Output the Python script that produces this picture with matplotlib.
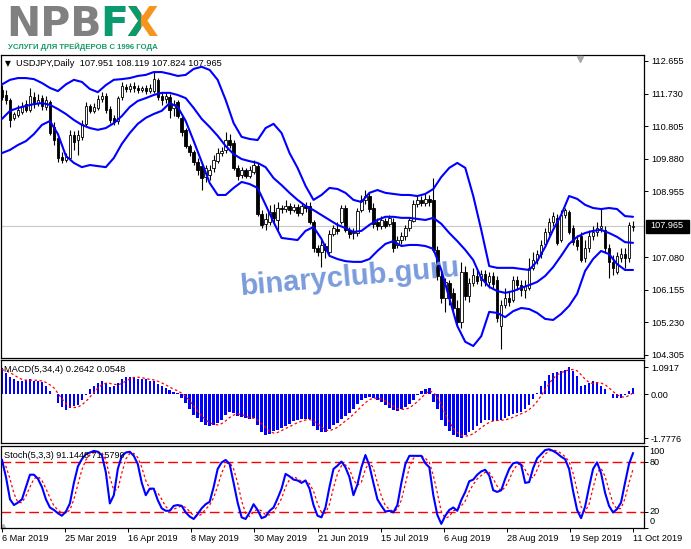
import matplotlib
matplotlib.use("Agg")
import matplotlib.pyplot as plt
import matplotlib.transforms as mtrans
from matplotlib.patches import Rectangle
import numpy as np

plt.rcParams['font.family'] = ['Liberation Sans', 'DejaVu Sans']

# ---------------- data ----------------
symbol_header = "USDJPY,Daily  107.951 108.119 107.824 107.965"
macd_header = "MACD(5,34,4) 0.2642 0.0548"
stoch_header = "Stoch(5,3,3) 91.1448 71.5790"
last_price = 107.965

date_labels = ['6 Mar 2019', '25 Mar 2019', '16 Apr 2019', '8 May 2019', '30 May 2019',
               '21 Jun 2019', '15 Jul 2019', '6 Aug 2019', '28 Aug 2019', '19 Sep 2019',
               '11 Oct 2019']
price_ticks = [104.305, 105.230, 106.155, 107.080, 108.955, 109.880, 110.805, 111.730, 112.655]
macd_ticks = [1.0917, 0.0, -1.7776]
macd_tick_labels = ['1.0917', '0.00', '-1.7776']
stoch_levels = [20, 80]

open_ = [111.83, 111.69, 111.55, 111.04, 111.12, 111.21, 111.43, 111.26, 111.63, 111.46,
         111.60, 111.35, 111.49, 110.78, 110.47, 109.93, 109.84, 109.90, 110.55, 110.41,
         110.50, 110.87, 111.38, 111.24, 111.32, 111.58, 111.66, 111.29, 111.04, 110.95,
         111.63, 111.92, 111.86, 111.94, 111.89, 111.83, 111.89, 111.80, 111.80, 112.12,
         111.66, 111.58, 111.63, 111.32, 111.49, 111.04, 110.70, 110.24, 110.07, 109.79,
         109.67, 109.36, 109.42, 109.62, 109.81, 110.04, 110.13, 110.41, 110.33, 109.62,
         109.42, 109.56, 109.39, 109.50, 109.67, 108.31, 108.03, 108.08, 108.37, 108.14,
         108.48, 108.45, 108.54, 108.42, 108.51, 108.34, 108.54, 108.54, 108.08, 107.34,
         107.23, 107.40, 107.23, 107.74, 107.88, 108.08, 108.48, 107.86, 107.77, 107.77,
         108.42, 108.71, 108.82, 108.48, 108.08, 107.97, 108.11, 108.03, 108.08, 107.43,
         107.57, 107.69, 107.91, 108.11, 108.59, 108.71, 108.62, 108.74, 108.71, 107.29,
         106.55, 105.92, 106.35, 106.07, 105.64, 105.24, 106.66, 105.98, 106.35, 106.55,
         106.44, 106.61, 106.38, 106.55, 106.44, 105.13, 105.72, 105.92, 105.87, 106.44,
         106.29, 106.15, 106.21, 106.78, 107.00, 107.17, 107.46, 107.80, 108.08, 108.20,
         107.57, 108.28, 108.37, 107.91, 107.57, 107.69, 107.06, 107.34, 107.69, 107.80,
         107.91, 107.86, 107.34, 106.95, 106.66, 107.06, 107.17, 107.06, 107.951]
high = [111.97, 111.83, 111.60, 111.21, 111.41, 111.49, 111.55, 111.89, 111.77, 111.72,
        111.69, 111.66, 111.55, 110.92, 110.55, 110.07, 110.04, 110.70, 110.67, 110.70,
        110.98, 111.49, 111.43, 111.46, 111.69, 111.77, 111.75, 111.38, 111.12, 111.66,
        112.06, 112.00, 112.03, 112.06, 111.97, 111.94, 111.97, 112.00, 112.34, 112.17,
        111.77, 111.77, 111.72, 111.55, 111.55, 111.09, 110.75, 110.30, 110.13, 109.90,
        109.79, 109.70, 109.70, 109.99, 110.19, 110.21, 110.64, 110.58, 110.41, 109.70,
        109.64, 109.62, 109.67, 109.84, 109.76, 108.42, 108.34, 108.57, 108.59, 108.65,
        108.57, 108.71, 108.62, 108.59, 108.59, 108.62, 108.65, 108.65, 108.14, 107.43,
        107.57, 107.49, 107.86, 108.00, 108.08, 108.57, 108.57, 107.94, 107.91, 108.48,
        108.85, 108.99, 108.94, 108.62, 108.20, 108.25, 108.20, 108.28, 108.20, 107.69,
        107.80, 108.00, 108.23, 108.71, 108.82, 108.82, 108.88, 108.85, 109.33, 107.40,
        106.72, 106.49, 106.44, 106.21, 105.87, 106.95, 106.83, 106.49, 106.78, 106.72,
        106.72, 106.72, 106.66, 106.66, 106.55, 105.87, 106.21, 106.10, 106.55, 106.55,
        106.44, 106.44, 107.06, 107.23, 107.29, 107.57, 107.91, 108.20, 108.37, 108.31,
        108.42, 108.48, 108.42, 108.00, 107.71, 107.80, 107.57, 107.86, 107.97, 108.08,
        108.48, 107.97, 107.46, 107.15, 107.23, 107.34, 107.34, 108.08, 108.119]
low = [111.55, 111.43, 110.78, 110.98, 111.07, 111.15, 111.21, 111.21, 111.32, 111.38,
       111.26, 111.26, 110.55, 110.27, 109.79, 109.76, 109.79, 109.84, 110.13, 109.99,
       110.41, 110.81, 111.18, 111.18, 111.26, 111.49, 111.18, 110.89, 110.84, 110.87,
       111.55, 111.77, 111.77, 111.77, 111.75, 111.77, 111.72, 111.75, 111.75, 111.55,
       111.41, 111.46, 111.04, 111.09, 111.04, 110.53, 110.19, 109.96, 109.70, 109.42,
       108.99, 109.22, 109.28, 109.50, 109.76, 109.96, 110.04, 110.19, 109.56, 109.28,
       109.33, 109.33, 109.33, 109.45, 108.25, 107.91, 107.86, 108.00, 108.00, 107.86,
       108.34, 108.37, 108.31, 108.37, 108.25, 108.28, 108.37, 108.03, 107.23, 107.12,
       106.80, 107.06, 107.12, 107.69, 107.74, 108.03, 107.80, 107.63, 107.60, 107.69,
       108.37, 108.59, 108.37, 107.91, 107.86, 107.88, 107.91, 107.97, 107.23, 107.34,
       107.46, 107.57, 107.83, 108.08, 108.51, 108.54, 108.54, 108.54, 107.23, 106.44,
       105.78, 105.53, 105.72, 105.53, 105.16, 105.07, 105.87, 105.81, 106.27, 106.32,
       106.27, 106.27, 106.21, 106.21, 105.24, 104.47, 105.64, 105.70, 105.81, 106.15,
       105.98, 105.92, 106.15, 106.72, 106.89, 107.06, 107.37, 107.71, 107.97, 107.43,
       107.51, 108.20, 107.74, 107.43, 107.29, 106.95, 106.95, 107.23, 107.57, 107.69,
       107.80, 107.23, 106.49, 106.58, 106.61, 106.95, 106.78, 106.95, 107.824]
close = [111.63, 111.55, 110.98, 111.15, 111.26, 111.38, 111.26, 111.66, 111.43, 111.55,
         111.38, 111.55, 110.61, 110.41, 109.90, 109.84, 109.93, 110.55, 110.36, 110.55,
         110.87, 111.38, 111.24, 111.35, 111.58, 111.66, 111.26, 110.98, 110.92, 111.60,
         111.94, 111.86, 111.94, 111.89, 111.83, 111.89, 111.80, 111.89, 112.14, 111.63,
         111.55, 111.66, 111.26, 111.43, 111.09, 110.64, 110.24, 110.07, 109.79, 109.56,
         109.33, 109.62, 109.56, 109.84, 110.04, 110.10, 110.41, 110.27, 109.62, 109.39,
         109.56, 109.39, 109.56, 109.70, 108.31, 108.00, 108.17, 108.37, 108.20, 108.48,
         108.45, 108.54, 108.42, 108.51, 108.34, 108.54, 108.48, 108.08, 107.34, 107.23,
         107.43, 107.29, 107.74, 107.91, 107.83, 108.48, 107.86, 107.74, 107.80, 108.40,
         108.71, 108.82, 108.45, 108.03, 107.97, 108.14, 107.97, 108.20, 107.34, 107.57,
         107.69, 107.91, 108.14, 108.59, 108.71, 108.62, 108.74, 108.65, 107.29, 106.55,
         105.92, 106.38, 105.92, 105.64, 105.24, 106.66, 105.98, 106.35, 106.58, 106.41,
         106.61, 106.38, 106.55, 106.32, 105.36, 105.72, 105.92, 105.81, 106.44, 106.29,
         106.15, 106.27, 106.78, 107.00, 107.17, 107.43, 107.80, 108.08, 108.25, 107.49,
         108.28, 108.42, 107.80, 107.51, 107.40, 107.00, 107.34, 107.69, 107.80, 107.91,
         107.97, 107.34, 106.95, 106.78, 107.12, 107.17, 107.06, 108.00, 107.965]

# Bollinger bands, read every second bar (bars 0, 2, 4, ... 158)
bb_upper = [111.99, 112.12, 112.17, 112.17, 112.14, 112.03, 111.89, 111.80, 111.99, 112.12,
            112.06, 111.86, 111.77, 111.97, 112.12, 112.14, 112.17, 112.23, 112.26, 112.34,
            112.34, 112.29, 112.23, 112.26, 112.43, 112.49, 112.40, 112.12, 111.55, 110.89,
            110.50, 110.44, 110.41, 110.75, 110.87, 110.61, 110.04, 109.62, 109.11, 108.71,
            108.85, 109.05, 109.02, 108.91, 108.71, 108.65, 108.91, 108.99, 108.91, 108.88,
            108.85, 108.85, 108.82, 108.88, 109.02, 109.36, 109.62, 109.76, 109.62, 108.82,
            107.86, 106.83, 106.78, 106.78, 106.78, 106.75, 106.72, 106.97, 107.37, 107.86,
            108.28, 108.82, 108.74, 108.57, 108.48, 108.45, 108.48, 108.45, 108.25, 108.23]
bb_mid = [111.01, 111.24, 111.32, 111.38, 111.43, 111.46, 111.41, 111.29, 111.15, 110.98,
          110.84, 110.75, 110.70, 110.75, 110.89, 111.09, 111.35, 111.52, 111.60, 111.69,
          111.75, 111.75, 111.69, 111.60, 111.32, 111.01, 110.78, 110.53, 110.24, 110.01,
          109.87, 109.81, 109.76, 109.64, 109.33, 109.13, 108.91, 108.71, 108.54, 108.42,
          108.28, 108.14, 108.00, 107.91, 107.80, 107.83, 108.00, 108.14, 108.23, 108.23,
          108.20, 108.20, 108.17, 108.14, 108.20, 108.03, 107.77, 107.54, 107.29, 107.00,
          106.49, 106.24, 106.12, 106.07, 106.12, 106.21, 106.29, 106.38, 106.55, 106.80,
          107.12, 107.46, 107.66, 107.77, 107.83, 107.86, 107.77, 107.66, 107.51, 107.49]
bb_lower = [110.04, 110.13, 110.27, 110.38, 110.58, 110.84, 110.95, 110.58, 109.96, 109.76,
            109.64, 109.70, 109.67, 109.64, 109.90, 110.30, 110.61, 110.87, 111.04, 111.15,
            111.24, 111.46, 111.35, 110.95, 110.38, 109.79, 109.19, 108.85, 108.85, 109.05,
            109.22, 109.16, 109.05, 108.57, 108.08, 107.63, 107.60, 107.57, 107.83, 107.94,
            107.60, 107.12, 107.03, 106.97, 106.95, 106.95, 107.03, 107.26, 107.46, 107.54,
            107.40, 107.43, 107.43, 107.40, 107.32, 106.72, 105.92, 105.13, 104.68, 104.56,
            104.84, 105.53, 105.50, 105.38, 105.55, 105.64, 105.61, 105.50, 105.33, 105.30,
            105.47, 105.70, 106.04, 106.69, 107.03, 107.26, 107.17, 106.89, 106.72, 106.72]

macd_main = [1.05, 0.85, 0.7, 0.6, 0.55, 0.55, 0.58, 0.6, 0.55, 0.52,
             0.5, 0.35, 0.15, 0.02, -0.35, -0.52, -0.62, -0.55, -0.48, -0.42,
             -0.25, -0.02, 0.2, 0.33, 0.47, 0.53, 0.45, 0.3, 0.34, 0.47,
             0.6, 0.7, 0.71, 0.7, 0.63, 0.62, 0.6, 0.55, 0.54, 0.42,
             0.33, 0.24, 0.16, 0.08, 0.07, -0.16, -0.35, -0.58, -0.83, -0.96,
             -1.12, -1.25, -1.28, -1.24, -1.17, -1.05, -0.85, -0.7, -0.76, -0.89,
             -0.92, -0.96, -1.02, -0.96, -1.24, -1.52, -1.64, -1.6, -1.5, -1.44,
             -1.35, -1.27, -1.19, -1.1, -1.03, -1.02, -1.0, -1.02, -1.3, -1.44,
             -1.52, -1.52, -1.4, -1.25, -1.17, -1.0, -0.9, -0.75, -0.58, -0.4,
             -0.22, -0.14, -0.12, -0.14, -0.22, -0.32, -0.45, -0.55, -0.64, -0.66,
             -0.6, -0.52, -0.4, -0.22, -0.05, 0.12, 0.2, 0.27, -0.3, -0.6,
             -1.05, -1.3, -1.5, -1.65, -1.72, -1.7776, -1.65, -1.52, -1.43, -1.3,
             -1.15, -1.06, -1.03, -1.08, -1.07, -1.03, -0.96, -0.89, -0.82, -0.75,
             -0.7, -0.6, -0.42, -0.2, 0.05, 0.35, 0.55, 0.78, 0.86, 0.92,
             0.95, 1.0, 1.0917, 0.96, 0.75, 0.34, 0.38, 0.45, 0.53, 0.48,
             0.35, 0.2, 0.02, -0.14, -0.16, -0.14, -0.03, 0.14, 0.2642]
macd_signal = [1.0, 0.95, 0.88, 0.78, 0.68, 0.60, 0.57, 0.57, 0.57, 0.56,
               0.54, 0.48, 0.38, 0.26, 0.04, -0.18, -0.37, -0.51, -0.54, -0.52,
               -0.43, -0.29, -0.12, 0.07, 0.25, 0.38, 0.45, 0.44, 0.40, 0.39,
               0.43, 0.53, 0.62, 0.68, 0.69, 0.67, 0.64, 0.60, 0.58, 0.53,
               0.46, 0.38, 0.29, 0.20, 0.14, 0.04, -0.09, -0.26, -0.48, -0.68,
               -0.87, -1.04, -1.15, -1.22, -1.24, -1.19, -1.08, -0.94, -0.84, -0.80,
               -0.82, -0.88, -0.95, -0.97, -1.05, -1.19, -1.34, -1.50, -1.57, -1.55,
               -1.47, -1.39, -1.31, -1.23, -1.15, -1.09, -1.04, -1.02, -1.09, -1.19,
               -1.32, -1.45, -1.47, -1.42, -1.34, -1.21, -1.08, -0.96, -0.81, -0.66,
               -0.49, -0.34, -0.22, -0.16, -0.16, -0.20, -0.28, -0.39, -0.49, -0.58,
               -0.61, -0.61, -0.55, -0.44, -0.30, -0.14, 0.01, 0.14, 0.07, -0.11,
               -0.42, -0.81, -1.11, -1.38, -1.54, -1.66, -1.70, -1.67, -1.60, -1.48,
               -1.35, -1.24, -1.14, -1.08, -1.06, -1.05, -1.04, -0.99, -0.93, -0.86,
               -0.79, -0.72, -0.62, -0.48, -0.29, -0.06, 0.19, 0.43, 0.64, 0.78,
               0.88, 0.93, 0.99, 1.00, 0.95, 0.79, 0.61, 0.48, 0.43, 0.46,
               0.45, 0.39, 0.26, 0.11, -0.02, -0.105, -0.12, -0.05, 0.0548]

stoch_main = [83, 62, 35, 28, 31, 35, 50, 65, 65, 60,
              50, 35, 25, 22, 18, 15, 20, 30, 55, 75,
              84, 90, 92, 94, 93, 89, 68, 30, 40, 72,
              88, 92, 93, 88, 78, 55, 40, 48, 48, 34,
              24, 21, 21, 27, 28, 27, 19, 14, 11, 17,
              24, 29, 32, 50, 72, 80, 83, 78, 55, 31,
              13, 11, 19, 29, 22, 12, 14, 21, 25, 36,
              48, 66, 63, 59, 58, 55, 58, 48, 28, 15,
              13, 25, 50, 72, 76, 81, 74, 62, 40, 53,
              74, 89, 76, 55, 35, 27, 20, 21, 19, 28,
              55, 78, 88, 88, 88, 88, 79, 74, 40, 16,
              5, 15, 22, 25, 21, 34, 44, 57, 59, 65,
              69, 71, 64, 46, 44, 46, 60, 72, 79, 80,
              77, 55, 56, 73, 85, 90, 95, 96, 94, 91,
              87, 84, 72, 45, 22, 12, 26, 50, 72, 80,
              67, 43, 27, 19, 23, 31, 55, 78, 91.1448]
stoch_signal = [80, 75, 60, 42, 31, 31, 39, 50, 60, 63,
                58, 48, 37, 27, 22, 18, 18, 22, 35, 53,
                71, 83, 89, 92, 93, 92, 83, 62, 46, 47,
                67, 84, 91, 91, 86, 74, 58, 48, 45, 43,
                35, 26, 22, 23, 25, 27, 25, 20, 15, 14,
                17, 23, 28, 37, 51, 67, 78, 80, 72, 55,
                33, 18, 14, 20, 23, 21, 16, 16, 20, 27,
                36, 50, 59, 63, 60, 57, 57, 54, 45, 30,
                19, 18, 29, 49, 66, 76, 77, 72, 59, 52,
                56, 72, 80, 73, 55, 39, 27, 23, 20, 23,
                34, 54, 74, 85, 88, 88, 85, 80, 64, 43,
                20, 12, 14, 21, 23, 27, 33, 45, 53, 60,
                64, 68, 68, 60, 51, 45, 50, 59, 70, 77,
                79, 71, 63, 61, 71, 83, 90, 94, 95, 94,
                91, 87, 81, 67, 46, 26, 20, 29, 49, 67,
                73, 63, 46, 30, 23, 24, 36, 55, 71.5790]

# ---------------- figure ----------------
W, H = 691, 549
fig = plt.figure(figsize=(W / 100, H / 100), dpi=100)
fig.patch.set_facecolor('white')


def rect(l, t, r, b):
    return [l / W, 1 - b / H, (r - l) / W, (b - t) / H]


def fx(px):
    return px / W


def fy(py):
    return 1 - py / H


ax = fig.add_axes(rect(0.5, 55, 644, 358))
ax2 = fig.add_axes(rect(0.5, 360, 644, 443))
ax3 = fig.add_axes(rect(0.5, 446, 644, 528))

n = len(close)
x = np.arange(n)
bar_px = 631 / 158.0
xmin = -1.5 / bar_px
xmax = xmin + 643.5 / bar_px

BLUE = '#0000ff'
LBL = 6.6

for a in (ax, ax2, ax3):
    a.set_xlim(xmin, xmax)
    a.set_facecolor('white')
    for s in a.spines.values():
        s.set_color('black')
        s.set_linewidth(0.9)
    a.yaxis.tick_right()
    a.tick_params(axis='y', which='both', right=True, left=False, labelright=True,
                  labelleft=False, length=3, width=0.7, pad=2, labelsize=LBL,
                  colors='black')
    a.tick_params(axis='x', which='both', bottom=False, top=False, labelbottom=False)

# ---- main price panel ----
o = np.array(open_)
c = np.array(close)
hi = np.array(high)
lo = np.array(low)
up = c >= o
ax.axhline(last_price, color='#c8c8c8', lw=0.8, zorder=1)
ax.vlines(x, lo, hi, color='black', lw=0.8, zorder=2)
body_h = np.maximum(np.abs(c - o), 0.012)
ax.bar(x, body_h, bottom=np.minimum(o, c), width=0.62,
       color=np.where(up, 'white', 'black'), edgecolor='black', linewidth=0.6, zorder=3)

bx = np.arange(0, n, 2)
for band in (bb_upper, bb_mid, bb_lower):
    ax.plot(bx, band, color=BLUE, lw=1.5, zorder=4, solid_capstyle='round')

ax.set_ylim(114.387 - 0.0284 * 358, 114.387 - 0.0284 * 55)
ax.set_yticks(price_ticks)
ax.set_yticklabels(['%.3f' % v for v in price_ticks])

# current price box
fig.patches.append(Rectangle((fx(646), fy(232.5)), fx(689) - fx(646), (232.5 - 219.5) / H,
                             transform=fig.transFigure, facecolor='black', edgecolor='black',
                             zorder=5))
fig.text(fx(650), fy(226), '%.3f' % last_price, color='white', fontsize=LBL,
         va='center', ha='left', zorder=6)

# header
fig.text(fx(4.5), fy(63.5), '\u25BC', fontsize=5.5, family=['DejaVu Sans'], va='center',
         color='black')
fig.text(fx(16), fy(63), symbol_header, fontsize=6.7, va='center', color='#000000')

# small grey shift marker
ax.plot([(580 - 0.5) / 643.5], [1 - 3.5 / 303], marker='v', color='#a8a8a8', ms=4,
        transform=ax.transAxes, clip_on=False, zorder=6)

# watermark
fig.text(fx(350), fy(277), 'binaryclub.guru', fontsize=21, fontweight='bold',
         family=['Liberation Sans', 'DejaVu Sans'], color='#6f93d8', alpha=0.92,
         rotation=5, ha='center', va='center', rotation_mode='anchor', zorder=10)

# ---- MACD panel ----
ax2.bar(x, macd_main, width=0.62, color=BLUE, zorder=2, linewidth=0)
ax2.plot(x, macd_signal, color='#ff0000', lw=0.9, ls=(0, (2, 2)), zorder=3)
ax2.set_ylim(-1.7776 - 5 / 25.44, 1.0917 + 7.5 / 25.44)
ax2.set_yticks(macd_ticks)
ax2.set_yticklabels(macd_tick_labels)
ax2.text(0.006, 1 - 10 / 83, macd_header, transform=ax2.transAxes, fontsize=6.7,
         va='center', ha='left', color='black', zorder=5)

# ---- Stochastic panel ----
for lv in stoch_levels:
    ax3.axhline(lv, color='#ff0000', lw=1.0, ls=(0, (7, 3)), zorder=1)
ax3.plot(x, stoch_signal, color='#ff0000', lw=0.9, ls=(0, (2, 2)), zorder=2)
ax3.plot(x, stoch_main, color=BLUE, lw=1.5, zorder=3)
ax3.set_ylim(0, 100)
ax3.set_yticks([0, 20, 80, 100])
ax3.set_yticklabels([])
blend = mtrans.blended_transform_factory(ax3.transAxes, ax3.transData)
for val, txt, dy in [(100, '100', -5), (80, '80', 0), (20, '20', 0), (0, '0', 6)]:
    tr = blend + mtrans.ScaledTranslation(0, dy / 100.0, fig.dpi_scale_trans)
    ax3.text(1 + 5.5 / 643.5, val, txt, transform=tr, fontsize=LBL, va='center',
             ha='left', color='black', clip_on=False)
ax3.text(0.006, 1 - 9 / 82, stoch_header, transform=ax3.transAxes, fontsize=6.6,
         va='center', ha='left', color='black', zorder=5)
ax3.plot([0.004], [0.03], marker='^', color='#b0b0b0', ms=3, transform=ax3.transAxes,
         clip_on=False)

tick_pos = [k * (n - 1) / (len(date_labels) - 1) for k in range(len(date_labels))]
ax3.set_xticks(tick_pos)
ax3.set_xticklabels(date_labels)
ax3.tick_params(axis='x', which='both', bottom=True, labelbottom=True, length=3,
                width=0.7, pad=1.5, labelsize=LBL, colors='black', direction='out')
for lbl in ax3.get_xticklabels():
    lbl.set_ha('left')

# ---- logo ----
fig.text(fx(6), fy(36.5), 'NPB', fontsize=29.5, fontweight='bold', family=['DejaVu Sans'],
         color='#808080', va='baseline', ha='left')
fig.text(fx(100), fy(36.5), 'F', fontsize=29.5, fontweight='bold', family=['DejaVu Sans'],
         color='#0b9a6d', va='baseline', ha='left')
tx = fig.text(fx(126), fy(36.5), 'X', fontsize=29.5, fontweight='bold', family=['DejaVu Sans'],
              color='#f7941d', va='baseline', ha='left')
tg = fig.text(fx(126), fy(36.5), 'X', fontsize=29.5, fontweight='bold', family=['DejaVu Sans'],
              color='#0b9a6d', va='baseline', ha='left')
clip = Rectangle((fx(120), fy(45)), (141 - 120) / W, 42 / H, transform=fig.transFigure)
tg.set_clip_path(clip)

sub = fig.text(fx(8), fy(47), 'УСЛУГИ ДЛЯ ТРЕЙДЕРОВ С 1996 ГОДА', fontsize=7,
               fontweight='bold',
               family=['Liberation Sans Narrow', 'Liberation Sans', 'DejaVu Sans'],
               color='#149c66', va='center', ha='left')
fig.canvas.draw()
r = fig.canvas.get_renderer()
bw = sub.get_window_extent(r).width
if bw > 0:
    sub.set_fontsize(7 * 150.0 / bw)

fig.savefig('out.png', dpi=100, facecolor='white')
